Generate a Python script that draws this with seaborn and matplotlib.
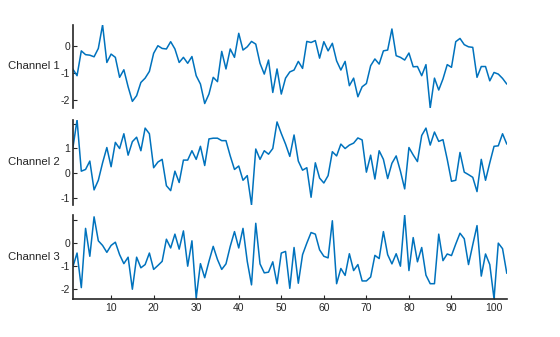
import matplotlib
matplotlib.use("Agg")
import matplotlib.pyplot as plt
import seaborn as sns
import numpy as np
import pandas as pd

x_values = list(range(1, 104))

channel_1 = [
    -0.86, -1.11, -0.19, -0.33, -0.35, -0.41, -0.10, 0.77, -0.62, -0.31,
    -0.43, -1.17, -0.89, -1.52, -2.06, -1.85, -1.36, -1.20, -0.95, -0.28,
    0.00, -0.10, -0.12, 0.15, -0.12, -0.62, -0.43, -0.65, -0.40, -1.11,
    -1.42, -2.14, -1.79, -1.17, -1.33, -0.21, -0.86, -0.12, -0.43, 0.46,
    -0.16, -0.04, 0.16, 0.06, -0.65, -1.05, -0.53, -1.73, -0.86, -1.79,
    -1.20, -0.97, -0.90, -0.58, -0.84, 0.16, 0.12, 0.19, -0.46, 0.15,
    -0.19, 0.09, -0.56, -0.90, -0.58, -1.48, -1.20, -1.89, -1.52, -1.40,
    -0.74, -0.49, -0.68, -0.19, -0.16, 0.62, -0.37, -0.43, -0.53, -0.27,
    -0.78, -0.77, -1.11, -0.70, -2.30, -1.20, -1.64, -1.23, -0.70, -0.80,
    0.15, 0.27, 0.04, -0.04, -0.06, -1.17, -0.77, -0.77, -1.30, -0.99,
    -1.05, -1.21, -1.42,
]

channel_2 = [
    0.99, 2.15, 0.07, 0.14, 0.48, -0.69, -0.30, 0.41, 1.03, 0.25,
    1.24, 0.99, 1.59, 0.72, 1.27, 1.45, 0.90, 1.82, 1.59, 0.21,
    0.44, 0.55, -0.52, -0.72, 0.07, -0.39, 0.52, 0.52, 0.90, 0.55,
    1.08, 0.30, 1.38, 1.41, 1.41, 1.31, 1.31, 0.69, 0.14, 0.28,
    -0.30, -0.11, -1.30, 0.97, 0.55, 0.90, 0.76, 0.99, 2.07, 1.60,
    1.17, 0.67, 1.54, 0.48, 0.11, 0.21, -0.99, 0.41, -0.21, -0.41,
    -0.11, 0.86, 0.69, 1.17, 0.99, 1.13, 1.21, 1.42, 1.34, 0.03,
    0.72, -0.25, 0.90, 0.55, -0.23, 0.39, 0.69, 0.07, -0.65, 1.03,
    0.73, 0.46, 1.52, 1.82, 1.13, 1.66, 1.28, 1.35, 0.55, -0.34,
    -0.30, 0.83, 0.03, -0.07, -0.18, -0.76, 0.55, -0.30, 0.41, 1.08,
    1.10, 1.59, 1.17,
]

channel_3 = [
    -1.04, -0.43, -1.93, 0.64, -0.57, 1.14, 0.10, -0.10, -0.40, -0.10,
    0.04, -0.50, -0.89, -0.61, -2.00, -0.61, -1.07, -0.93, -0.43, -1.14,
    -0.97, -0.79, 0.17, -0.21, 0.39, -0.26, 0.53, -1.00, 0.10, -2.38,
    -0.89, -1.50, -0.79, -0.14, -0.71, -1.14, -0.90, -0.14, 0.50, -0.21,
    0.64, -0.79, -1.81, 0.86, -0.90, -1.29, -1.26, -0.81, -1.76, -0.43,
    -0.36, -1.96, -0.19, -1.74, -0.50, 0.00, 0.46, 0.39, -0.29, -0.57,
    -0.64, 0.97, -1.76, -1.10, -1.40, -0.46, -1.19, -0.93, -1.64, -1.64,
    -1.47, -0.53, -0.67, 0.50, -0.50, -0.90, -0.46, -1.00, 1.22, -1.19,
    0.24, -0.81, -0.19, -1.39, -1.76, -1.76, 0.39, -0.76, -0.47, -0.54,
    -0.04, 0.43, 0.19, -0.93, -0.07, 0.76, -1.43, -0.47, -0.93, -2.42,
    0.00, -0.24, -1.31,
]

channel_names = ["Channel 1", "Channel 2", "Channel 3"]
y_ticks = [[0, -1, -2], [2, 1, 0, -1], [1, 0, -1, -2]]
y_tick_labels = [["0", "-1", "-2"], ["", "1", "0", "-1"], ["", "0", "-1", "-2"]]
x_ticks = [10, 20, 30, 40, 50, 60, 70, 80, 90, 100]

sns.set_style("white")
plt.rcParams["font.family"] = ["Liberation Sans", "DejaVu Sans"]

line_color = "#0072BD"
axis_color = "#262626"

fig = plt.figure(figsize=(5.6, 3.37), dpi=100)
positions = [
    (0.130, 0.680, 0.775, 0.246),
    (0.130, 0.392, 0.775, 0.252),
    (0.130, 0.113, 0.775, 0.249),
]

series = [channel_1, channel_2, channel_3]
for k, (pos, vals) in enumerate(zip(positions, series)):
    ax = fig.add_axes(pos)
    df = pd.DataFrame({"x": x_values, "y": vals})
    sns.lineplot(data=df, x="x", y="y", ax=ax, color=line_color, linewidth=1.1)
    ax.set_xlim(1, 103)
    ax.set_ylim(min(vals), max(vals))
    ax.set_yticks(y_ticks[k])
    ax.set_yticklabels(y_tick_labels[k])
    ax.set_xlabel("")
    ax.set_ylabel("")
    for s in ["top", "right"]:
        ax.spines[s].set_visible(False)
    ax.spines["left"].set_color(axis_color)
    ax.spines["left"].set_linewidth(1.2)
    ax.tick_params(axis="y", direction="in", length=3, width=0.8,
                   colors=axis_color, labelsize=7.5, pad=2, left=True)
    if k < 2:
        ax.spines["bottom"].set_visible(False)
        ax.set_xticks([])
    else:
        ax.spines["bottom"].set_color(axis_color)
        ax.spines["bottom"].set_linewidth(1.2)
        ax.set_xticks(x_ticks)
        ax.set_xticklabels([str(t) for t in x_ticks])
        ax.tick_params(axis="x", direction="in", length=3, width=0.8,
                       colors=axis_color, labelsize=7.5, pad=3, bottom=True)
    ax.grid(False)
    ax.text(-0.03, 0.5, channel_names[k], transform=ax.transAxes,
            ha="right", va="center", fontsize=8.2, color=axis_color)

fig.savefig("out.png", dpi=100)
